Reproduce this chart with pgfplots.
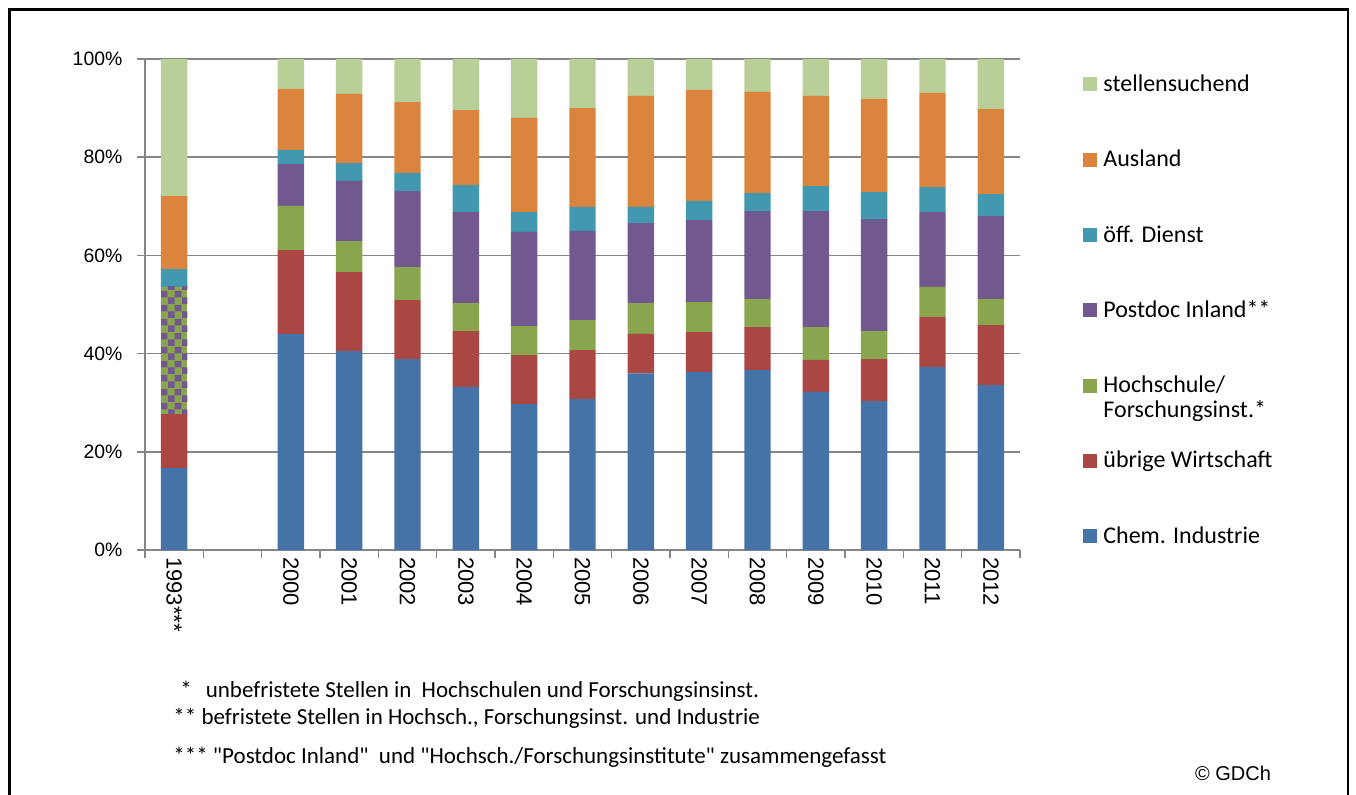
\documentclass[border=0pt]{standalone}
\usepackage{fontspec}
\setmainfont{Carlito}
\newfontfamily\footfont{Carlito}
\newfontfamily\arialfont{Liberation Sans}
\usepackage{pgfplots}
\usepackage{pgfplotstable}
\pgfplotsset{compat=1.18}
\usetikzlibrary{patterns}

\definecolor{cchem}{HTML}{4572A7}
\definecolor{cueb}{HTML}{AA4643}
\definecolor{choch}{HTML}{89A54E}
\definecolor{cpost}{HTML}{71588F}
\definecolor{coeff}{HTML}{4198AF}
\definecolor{causl}{HTML}{DB843D}
\definecolor{cstell}{HTML}{BACF97}
\definecolor{axisgray}{HTML}{868686}

% checkerboard for 1993 (Postdoc + Hochschule zusammen)
\pgfdeclarepatternformonly{chk}{\pgfpointorigin}{\pgfqpoint{7pt}{7pt}}{\pgfqpoint{7pt}{7pt}}{%
  \pgfpathrectangle{\pgfpointorigin}{\pgfqpoint{3.5pt}{3.5pt}}%
  \pgfpathrectangle{\pgfqpoint{3.5pt}{3.5pt}}{\pgfqpoint{3.5pt}{3.5pt}}%
  \pgfusepath{fill}}

\pgfplotsset{sqlegend/.style={legend image code/.code={\fill[##1] (0pt,-3pt) rectangle (7pt,4pt);}}}

% shares in %, 1993 at x=0, 2000..2012 at x=2..14
\pgfplotstableread{
x  chem ueb  hoch post comb oeff ausl stell
0  16.7 11.0 0    0    25.9 3.6  14.9 27.9
2  44.0 17.1 9.0  8.5  0    2.9  12.4 6.1
3  40.5 16.1 6.3  12.3 0    3.6  14.1 7.1
4  38.9 12.0 6.7  15.5 0    3.7  14.4 8.8
5  33.2 11.4 5.7  18.5 0    5.5  15.3 10.4
6  29.7 10.0 5.9  19.2 0    4.0  19.2 12.0
7  30.8 9.9  6.1  18.2 0    4.9  20.1 10.0
8  36.0 8.0  6.3  16.3 0    3.3  22.6 7.5
9  36.3 8.1  6.1  16.7 0    3.9  22.6 6.3
10 36.7 8.7  5.7  17.9 0    3.7  20.6 6.7
11 32.2 6.5  6.7  23.6 0    5.1  18.4 7.5
12 30.3 8.6  5.7  22.8 0    5.5  19.0 8.1
13 37.3 10.2 6.1  15.2 0    5.1  19.2 6.9
14 33.6 12.2 5.3  16.9 0    4.5  17.3 10.2
}\datatable

\begin{document}
\begin{tikzpicture}
\useasboundingbox (0pt,0pt) rectangle (678pt,-397pt);
\draw[line width=1.3pt] (4.75pt,-4.75pt) rectangle (674pt,-420pt);
\begin{axis}[
    at={(72.5pt,-275pt)}, anchor=south west,
    scale only axis, width=437.5pt, height=245.5pt,
    ybar stacked, bar width=13.2pt,
    xmin=-0.5, xmax=14.5, ymin=0, ymax=100,
    xtick={-0.5,0.5,...,14.5}, xticklabels={},
    extra x ticks={0,2,3,...,14},
    extra x tick labels={1993***,2000,2001,2002,2003,2004,2005,2006,2007,2008,2009,2010,2011,2012},
    extra x tick style={major tick length=0pt, grid=none},
    ytick={0,20,...,100},
    yticklabel={\pgfmathprintnumber{\tick}\%},
    /pgf/number format/assume math mode=true,
    tick label style={font=\arialfont\fontsize{9.7}{11}\selectfont, text=black},
    x tick label style={rotate=-90, anchor=west, font=\arialfont\fontsize{11}{13}\selectfont},
    y tick label style={xshift=-4pt},
    axis x line*=bottom, axis y line*=left,
    axis line style={draw=axisgray, line width=0.75pt, -},
    tick align=outside,
    major tick length=3.8pt,
    tick style={draw=axisgray, line width=0.75pt},
    ymajorgrids, grid style={draw=axisgray, line width=0.75pt},
    legend style={at={(1,1)}, anchor=north west, xshift=31.5pt, yshift=-7.5pt,
        draw=none, fill=none, inner sep=0pt, row sep=26.65pt,
        font=\fontsize{12}{12.5}\selectfont,
        nodes={inner sep=0pt, text height=8.5pt, text depth=2.5pt},
        /tikz/every odd column/.append style={column sep=3pt}},
    legend cell align=left,
    reverse legend,
]
\addplot[sqlegend, fill=cchem, draw=none] table[x=x, y=chem] {\datatable};
\addlegendentry{Chem. Industrie}
\addplot[sqlegend, fill=cueb, draw=none] table[x=x, y=ueb] {\datatable};
\addlegendentry{übrige Wirtschaft}
\addplot[sqlegend, fill=choch, draw=none] table[x=x, y=hoch] {\datatable};
\addlegendentry{\begin{tabular}[t]{@{}l@{}}Hochschule/\\Forschungsinst.*\end{tabular}}
\addplot[sqlegend, fill=cpost, draw=none] table[x=x, y=post] {\datatable};
\addlegendentry{Postdoc Inland**}
\addplot[forget plot, fill=choch, draw=none, postaction={pattern=chk, pattern color=cpost}] table[x=x, y=comb] {\datatable};
\addplot[sqlegend, fill=coeff, draw=none] table[x=x, y=oeff] {\datatable};
\addlegendentry{öff. Dienst}
\addplot[sqlegend, fill=causl, draw=none] table[x=x, y=ausl] {\datatable};
\addlegendentry{Ausland}
\addplot[sqlegend, fill=cstell, draw=none] table[x=x, y=stell] {\datatable};
\addlegendentry{stellensuchend}
\end{axis}
\begin{scope}[every node/.style={anchor=west, inner sep=0pt, font=\footfont\fontsize{11.5}{13}\selectfont}]
\node at (90pt,-345.5pt) {*\hspace{7pt}unbefristete Stellen in\ \ Hochschulen und Forschungsinsinst.};
\node at (86.5pt,-359pt) {** befristete Stellen in Hochsch., Forschungsinst. und Industrie};
\node at (86.5pt,-378.5pt) {*** "Postdoc Inland"\ \ und "Hochsch./Forschungsinstitute" zusammengefasst};
\end{scope}
\node[inner sep=0pt, font=\arialfont\fontsize{10}{12}\selectfont] at (616.5pt,-386.5pt) {© GDCh};
\end{tikzpicture}
\end{document}
